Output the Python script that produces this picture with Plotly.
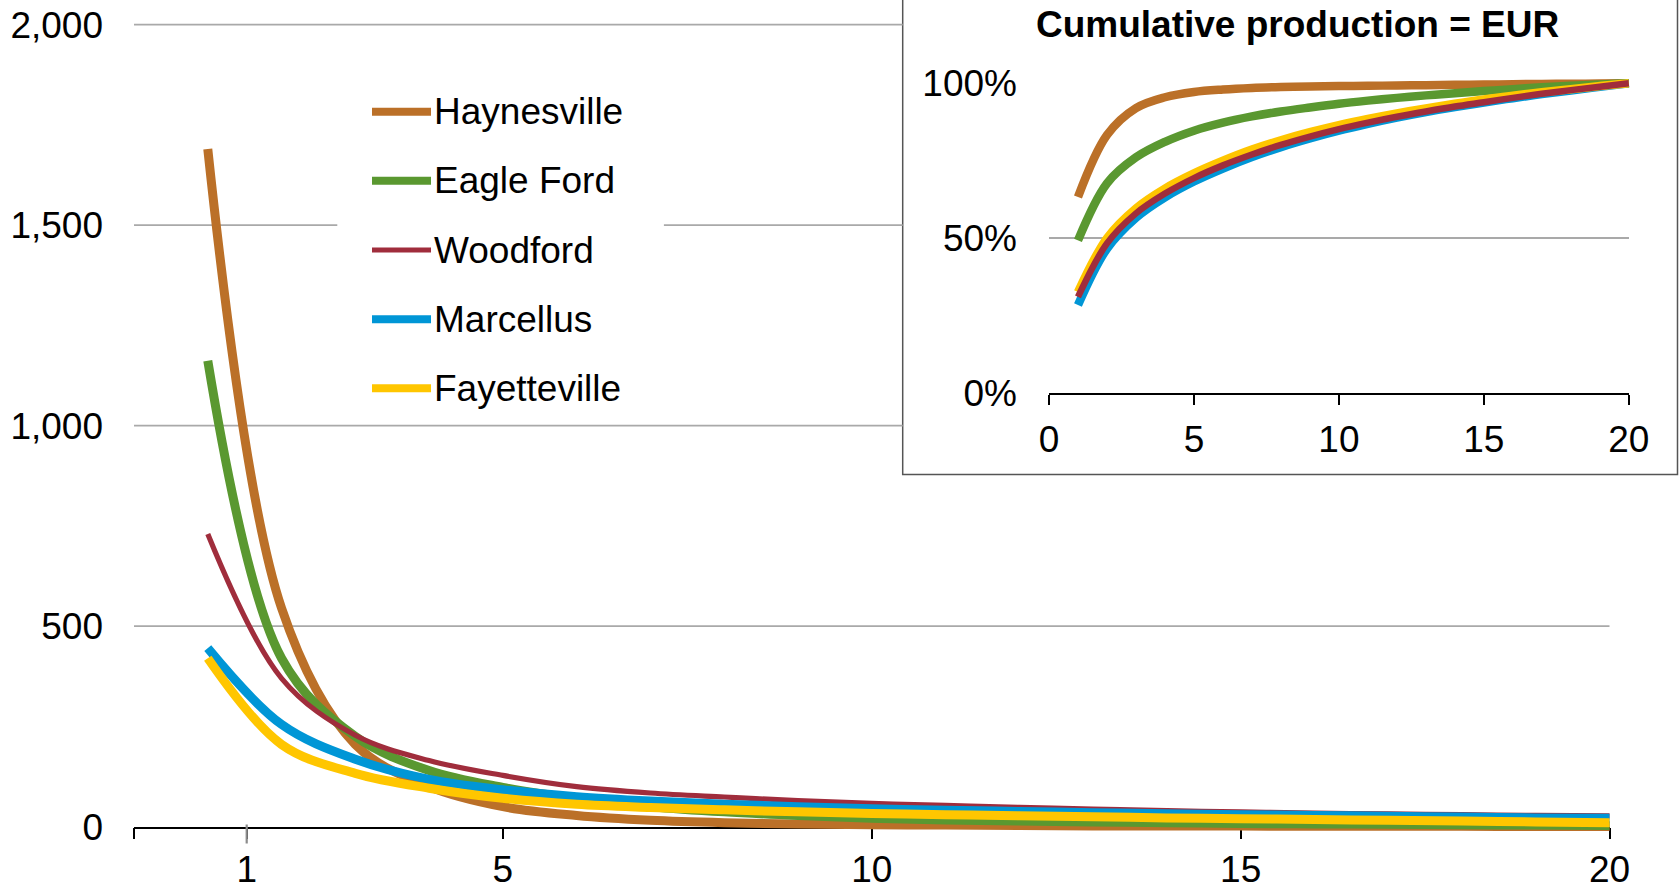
import plotly.graph_objects as go

# ---------------- data ----------------
years = list(range(1, 21))
series_names = ["Haynesville", "Eagle Ford", "Woodford", "Marcellus", "Fayetteville"]

# annual production (main chart)
haynesville = [1690, 545, 205, 100, 50, 28, 16, 10, 7, 5, 4, 3, 2, 2, 1.5, 1, 1, 1, 0.5, 0.5]
eagle_ford = [1162, 420, 225, 140, 98, 70, 50, 37, 28, 21, 17, 14, 12, 10, 8, 7, 6, 5, 4, 3]
woodford = [730, 370, 228, 165, 128, 100, 84, 74, 65, 58, 53, 48, 44, 40, 37, 34, 32, 30, 28, 27]
marcellus = [445, 255, 168, 118, 92, 75, 64, 56, 50, 45, 41, 38, 35, 32, 30, 28, 26, 24, 22, 21]
fayetteville = [420, 205, 133, 96, 71, 56, 48, 42, 37, 33, 30, 27, 25, 22, 20, 18, 16, 14, 12, 10]

# cumulative production as % of EUR (inset)
haynesville_cum = [63.3, 83.3, 92.0, 95.5, 97.2, 98.0, 98.5, 98.8, 99.0, 99.1, 99.2, 99.3, 99.4, 99.5, 99.6, 99.7, 99.8, 99.85, 99.9, 100]
eagle_ford_cum = [49.3, 67.7, 76.1, 81.1, 84.7, 87.3, 89.3, 90.9, 92.2, 93.4, 94.4, 95.3, 96.1, 96.8, 97.5, 98.1, 98.7, 99.2, 99.6, 100]
woodford_cum = [31.0, 48.3, 58.0, 64.4, 69.4, 73.5, 77.0, 80.1, 82.8, 85.2, 87.3, 89.2, 90.9, 92.5, 93.9, 95.3, 96.6, 97.8, 98.9, 100]
marcellus_cum = [28.4, 46.6, 56.6, 63.2, 68.3, 72.5, 76.2, 79.4, 82.2, 84.7, 86.9, 88.9, 90.7, 92.3, 93.8, 95.2, 96.5, 97.7, 98.9, 100]
fayetteville_cum = [32.6, 50.0, 59.6, 66.0, 70.9, 75.0, 78.6, 81.6, 84.2, 86.5, 88.5, 90.3, 91.9, 93.4, 94.8, 96.0, 97.1, 98.1, 99.1, 100]

main_y_ticks = [0, 500, 1000, 1500, 2000]
main_y_labels = ["0", "500", "1,000", "1,500", "2,000"]
main_x_ticks = [0, 1.53, 5, 10, 15, 20]
main_x_labels = ["", "1", "5", "10", "15", "20"]
inset_x_ticks = [0, 5, 10, 15, 20]
inset_x_labels = ["0", "5", "10", "15", "20"]
inset_y_ticks = [0, 50, 100]
inset_y_labels = ["0%", "50%", "100%"]
inset_title = "Cumulative production = EUR"

# ---------------- styles ----------------
colors = {"Haynesville": "#BB7028", "Eagle Ford": "#5A9830", "Woodford": "#A02D3C",
          "Marcellus": "#0096D6", "Fayetteville": "#FFC600"}
main_widths = {"Haynesville": 9, "Eagle Ford": 9, "Woodford": 5.2, "Marcellus": 9, "Fayetteville": 9}
legend_widths = {"Haynesville": 8, "Eagle Ford": 8, "Woodford": 5, "Marcellus": 8, "Fayetteville": 8}
inset_widths = {"Haynesville": 8.5, "Eagle Ford": 8.5, "Woodford": 6.5, "Marcellus": 8.5, "Fayetteville": 8.5}
FONT = "Liberation Sans, Arial, sans-serif"
FS = 37
GRID = "#A9A9A9"

W, H = 1679, 890
def px_x(p):
    return p / W
def px_y(p):
    return 1 - p / H

# main plot pixel geometry
MX0, MX1 = 134.0, 1609.5       # x = 0, x = 20
MY0, MY1 = 826.7, 24.6         # y = 0, y = 2000
pxu = (MX1 - MX0) / 20.0
pyu = (MY0 - MY1) / 2000.0
# inset pixel geometry
IX0, IX1 = 1049.0, 1628.8
IY0, IY1 = 393.0, 83.3
ixu = (IX1 - IX0) / 20.0
iyu = (IY0 - IY1) / 100.0

fig = go.Figure()

# empty traces so the visible axes are drawn
fig.add_trace(go.Scatter(x=[None], y=[None], mode="lines", xaxis="x", yaxis="y", hoverinfo="skip", showlegend=False))
fig.add_trace(go.Scatter(x=[None], y=[None], mode="lines", xaxis="x2", yaxis="y2", hoverinfo="skip", showlegend=False))

main_data = {"Haynesville": haynesville, "Eagle Ford": eagle_ford, "Woodford": woodford,
             "Marcellus": marcellus, "Fayetteville": fayetteville}
inset_data = {"Haynesville": haynesville_cum, "Eagle Ford": eagle_ford_cum, "Woodford": woodford_cum,
              "Marcellus": marcellus_cum, "Fayetteville": fayetteville_cum}

for name in series_names:
    fig.add_trace(go.Scatter(x=years, y=main_data[name], mode="lines", name=name,
                             line=dict(color=colors[name], width=main_widths[name], shape="spline", smoothing=1.0),
                             xaxis="x3", yaxis="y3", hoverinfo="skip"))

for name in ["Haynesville", "Eagle Ford", "Marcellus", "Fayetteville", "Woodford"]:
    fig.add_trace(go.Scatter(x=years, y=inset_data[name], mode="lines", name=name,
                             line=dict(color=colors[name], width=inset_widths[name], shape="spline", smoothing=1.0),
                             xaxis="x4", yaxis="y4", hoverinfo="skip", showlegend=False))

shapes = []
# inset frame
shapes.append(dict(type="rect", xref="paper", yref="paper",
                   x0=px_x(902.7), x1=px_x(1677.5), y0=px_y(474.5), y1=px_y(-10),
                   line=dict(color="#555555", width=1.5), fillcolor="white", layer="below"))
# main gridlines (interrupted by legend and inset)
grid_segments = [(500, MX0, MX1), (1000, MX0, 902.7), (1500, MX0, 337.3), (1500, 663.9, 902.7), (2000, MX0, 902.7)]
for val, xa, xb in grid_segments:
    yp = px_y(MY0 - val * pyu)
    shapes.append(dict(type="line", xref="paper", yref="paper", x0=px_x(xa), x1=px_x(xb), y0=yp, y1=yp,
                       line=dict(color=GRID, width=1.75), layer="below"))
# gray "1" tick
shapes.append(dict(type="line", xref="paper", yref="paper",
                   x0=px_x(246.7), x1=px_x(246.7), y0=px_y(824.5), y1=px_y(843.5),
                   line=dict(color="#8C8C8C", width=2.2), layer="above"))

annotations = []
# manual legend
row0, row_step = 111.7, 69.15
for i, name in enumerate(series_names):
    yy = px_y(row0 + i * row_step)
    shapes.append(dict(type="line", xref="paper", yref="paper", x0=px_x(372), x1=px_x(431), y0=yy, y1=yy,
                       line=dict(color=colors[name], width=legend_widths[name]), layer="above"))
    annotations.append(dict(text=name, xref="paper", yref="paper", x=px_x(432), y=yy,
                            xanchor="left", yanchor="middle", showarrow=False,
                            font=dict(family=FONT, size=FS, color="black")))

annotations.append(dict(text=inset_title, xref="paper", yref="paper", x=px_x(1297), y=px_y(24),
                        xanchor="center", yanchor="middle", showarrow=False,
                        font=dict(family=FONT, size=37, color="black", weight="bold")))

axis_font = dict(family=FONT, size=FS, color="black")
fig.update_layout(
    width=W, height=H, autosize=False,
    margin=dict(l=0, r=0, t=0, b=0, pad=0, autoexpand=False),
    paper_bgcolor="white", plot_bgcolor="rgba(0,0,0,0)",
    showlegend=False,
    font=dict(family=FONT, size=FS, color="black"),
    xaxis=dict(domain=[px_x(MX0), px_x(MX1)], range=[0, 20], anchor="y", automargin=False,
               showgrid=False, zeroline=False, showline=True, linecolor="black", linewidth=1.5,
               ticks="outside", ticklen=11, tickwidth=1.5, tickcolor="black",
               tickvals=main_x_ticks, ticktext=main_x_labels,
               tickfont=axis_font, ticklabelstandoff=-2, layer="below traces"),
    yaxis=dict(domain=[px_y(MY0), px_y(MY1)], range=[0, 2000], anchor="x", automargin=False,
               showgrid=False, zeroline=False, showline=False, ticks="",
               tickvals=main_y_ticks, ticktext=main_y_labels, tickfont=axis_font,
               ticklabelstandoff=30),
    xaxis2=dict(domain=[px_x(IX0), px_x(IX1)], range=[0, 20], anchor="y2", automargin=False,
                showgrid=False, zeroline=False, showline=True, linecolor="black", linewidth=1.5,
                ticks="outside", ticklen=10.5, tickwidth=1.5, tickcolor="black",
                tickvals=inset_x_ticks, ticktext=inset_x_labels, tickfont=axis_font,
                ticklabelstandoff=2, layer="below traces"),
    yaxis2=dict(domain=[px_y(IY0), px_y(IY1)], range=[0, 100], anchor="x2", automargin=False,
                showgrid=True, gridcolor=GRID, gridwidth=1.75, zeroline=False, showline=False, ticks="",
                tickvals=inset_y_ticks, ticktext=inset_y_labels, tickfont=axis_font,
                ticklabelstandoff=31),
    xaxis3=dict(domain=[px_x(MX0), px_x(1645)], range=[0, (1645 - MX0) / pxu], anchor="y3",
                visible=False, automargin=False),
    yaxis3=dict(domain=[px_y(855), px_y(5)], range=[-(855 - MY0) / pyu, 2000 + (MY1 - 5) / pyu],
                anchor="x3", visible=False, automargin=False),
    xaxis4=dict(domain=[px_x(IX0), px_x(1645)], range=[0, (1645 - IX0) / ixu], anchor="y4",
                visible=False, automargin=False),
    yaxis4=dict(domain=[px_y(410), px_y(60)], range=[-(410 - IY0) / iyu, 100 + (IY1 - 60) / iyu],
                anchor="x4", visible=False, automargin=False),
    shapes=shapes,
    annotations=annotations,
)

fig.write_html("out.html", config={"displayModeBar": False},
               post_script="document.body.style.margin='0';document.body.style.overflow='hidden';")
